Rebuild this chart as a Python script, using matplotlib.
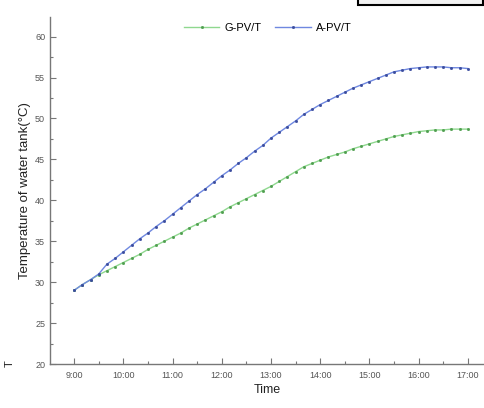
import matplotlib
matplotlib.use("Agg")
import matplotlib.pyplot as plt
from matplotlib.ticker import MultipleLocator
from matplotlib.patches import Rectangle
import numpy as np

plt.rcParams['font.family'] = ['Liberation Sans', 'DejaVu Sans']

# ---------------- data (every 10 min from 9:00 to 17:00)
hour_labels = ["9:00", "10:00", "11:00", "12:00", "13:00", "14:00", "15:00", "16:00", "17:00"]
minutes = list(range(0, 481, 10))

a_pvt = [29.0, 29.7, 30.3, 31.0, 32.2, 32.9,
         33.7, 34.5, 35.3, 36.0, 36.8, 37.5,
         38.3, 39.1, 39.9, 40.7, 41.4, 42.2,
         43.0, 43.7, 44.5, 45.2, 46.0, 46.7,
         47.6, 48.3, 49.0, 49.7, 50.5, 51.1,
         51.7, 52.2, 52.7, 53.2, 53.7, 54.1,
         54.5, 54.9, 55.3, 55.7, 55.9, 56.1,
         56.2, 56.3, 56.3, 56.3, 56.2, 56.2,
         56.1]

g_pvt = [29.0, 29.7, 30.3, 30.9, 31.4, 31.9,
         32.4, 32.9, 33.4, 34.0, 34.5, 35.0,
         35.5, 36.0, 36.6, 37.1, 37.6, 38.1,
         38.6, 39.2, 39.7, 40.2, 40.7, 41.2,
         41.7, 42.3, 42.9, 43.5, 44.1, 44.5,
         44.9, 45.3, 45.6, 45.9, 46.3, 46.6,
         46.9, 47.2, 47.5, 47.8, 48.0, 48.2,
         48.4, 48.5, 48.6, 48.6, 48.7, 48.7,
         48.7]

t = 9 + np.array(minutes) / 60.0

# ---------------- figure
fig = plt.figure(figsize=(4.85, 4.08), dpi=100)
ax = fig.add_axes([50 / 485, 44 / 408, 435 / 485, 347 / 408])

ax.plot(t, g_pvt, color='#8fd88f', lw=1.0, marker='s', ms=1.0,
        mfc='#4f9f4f', mec='#4f9f4f', label='G-PV/T')
ax.plot(t, a_pvt, color='#6f88e0', lw=1.0, marker='s', ms=1.0,
        mfc='#3a4c9e', mec='#3a4c9e', label='A-PV/T')

ax.set_xlim(8.51, 17.35)
ax.set_ylim(20, 62.4)
ax.set_xticks(range(9, 18))
ax.set_xticklabels(hour_labels)
ax.xaxis.set_minor_locator(MultipleLocator(0.5))
ax.yaxis.set_major_locator(MultipleLocator(5))
ax.yaxis.set_minor_locator(MultipleLocator(2.5))

ax.tick_params(which='both', direction='in', colors='#777777', labelcolor='#555555',
               labelsize=6.5, width=0.8)
ax.tick_params(which='major', length=4)
ax.tick_params(which='minor', length=2)
ax.tick_params(axis='x', pad=5)

for s in ['top', 'right']:
    ax.spines[s].set_visible(False)
for s in ['left', 'bottom']:
    ax.spines[s].set_color('#777777')
    ax.spines[s].set_linewidth(1.0)

ax.set_xlabel('Time', fontsize=9, color='#222222', labelpad=3)
ax.set_ylabel('Temperature of water tank(°C)', fontsize=9.5, color='#222222', labelpad=3)

leg = ax.legend(loc='center', bbox_to_anchor=(268 / 485, 1 - 28 / 408),
                bbox_transform=fig.transFigure, ncol=2, frameon=False,
                fontsize=8, handlelength=3.2, columnspacing=1.2, handletextpad=0.5)

# stray box in the top right corner and stray glyph, as in the source image
fig.patches.append(Rectangle((358 / 485, 1 - 5 / 408), 125 / 485, 20 / 408,
                             transform=fig.transFigure, facecolor='#f2f2f2',
                             edgecolor='black', lw=1.5))
fig.text(10 / 485, 1 - 364 / 408, 'T', rotation=90, fontsize=8, color='#222222',
         ha='center', va='center')

fig.savefig('out.png', dpi=100)
